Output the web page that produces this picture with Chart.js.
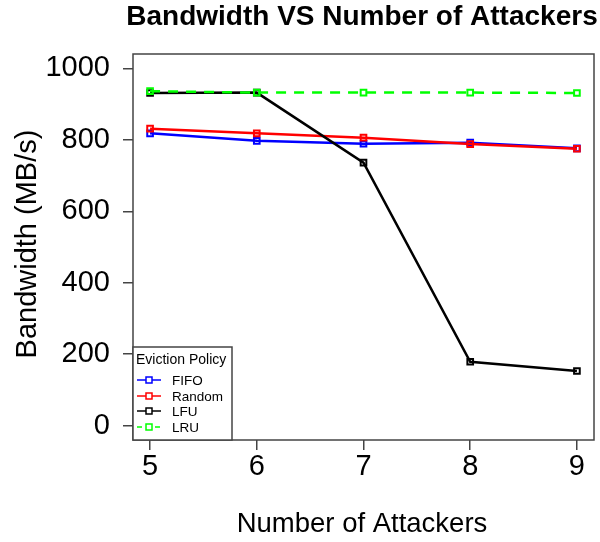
<!DOCTYPE html>
<html>
<head>
<meta charset="utf-8">
<style>
  html, body { margin: 0; padding: 0; background: #fff; }
  canvas { display: block; }
</style>
<script src="https://cdn.jsdelivr.net/npm/chart.js@4/dist/chart.umd.min.js"></script>
</head>
<body>
<canvas id="c" width="600" height="542"></canvas>
<script>
// Number of attackers on the x axis
const attackers = [5, 6, 7, 8, 9];
// Bandwidth (MB/s) per eviction policy
const fifo   = [818, 797, 789, 792, 776];
const random = [831, 818, 806, 788, 775];
const lfu    = [931, 932, 736, 179, 153];
const lru    = [936, 932, 932, 932, 931];
// Axis tick labels
const xTicks = [5, 6, 7, 8, 9];
const yTicks = [0, 200, 400, 600, 800, 1000];

const FONT = '"Liberation Sans", Arial, sans-serif';

const series = [
  { label: 'FIFO',   data: fifo,   color: '#0000ff', dash: [],      order: 3 },
  { label: 'Random', data: random, color: '#ff0000', dash: [],      order: 2 },
  { label: 'LFU',    data: lfu,    color: '#000000', dash: [],      order: 1 },
  { label: 'LRU',    data: lru,    color: '#00ff00', dash: [10, 8], order: 0 }
];

const datasets = series.map(s => ({
  label: s.label,
  data: attackers.map((x, i) => ({ x, y: s.data[i] })),
  borderColor: s.color,
  backgroundColor: 'rgba(0,0,0,0)',
  borderWidth: 2.5,
  borderDash: s.dash,
  pointStyle: 'rect',
  pointRadius: 4,
  pointBorderWidth: 2,
  pointBorderColor: s.color,
  pointBackgroundColor: 'rgba(0,0,0,0)',
  tension: 0,
  order: s.order
}));

// Frame, titles and legend box
const decor = {
  id: 'decor',
  afterDraw(chart) {
    const ctx = chart.ctx;
    const a = chart.chartArea;
    ctx.save();
    // plot frame
    ctx.strokeStyle = '#444';
    ctx.lineWidth = 1.5;
    ctx.strokeRect(a.left, a.top, a.right - a.left, a.bottom - a.top);

    // main title
    ctx.fillStyle = '#000';
    ctx.font = 'bold 28px ' + FONT;
    ctx.textAlign = 'center';
    ctx.textBaseline = 'alphabetic';
    ctx.fillText('Bandwidth VS Number of Attackers', 362, 25);

    // axis titles
    ctx.font = '27.5px ' + FONT;
    ctx.fillText('Number of Attackers', 362, 532);
    ctx.save();
    ctx.translate(36, 244);
    ctx.rotate(-Math.PI / 2);
    ctx.font = '29px ' + FONT;
    ctx.fillText('Bandwidth (MB/s)', 0, 0);
    ctx.restore();

    // legend
    const lx = a.left, ly = 347, lw = 99, lh = a.bottom - ly;
    ctx.fillStyle = '#fff';
    ctx.fillRect(lx, ly, lw, lh);
    ctx.strokeStyle = '#444';
    ctx.lineWidth = 1.5;
    ctx.strokeRect(lx, ly, lw, lh);
    ctx.fillStyle = '#000';
    ctx.font = '14px ' + FONT;
    ctx.textAlign = 'left';
    ctx.textBaseline = 'middle';
    ctx.fillText('Eviction Policy', lx + 3, ly + 13);
    const rows = [380, 396, 411, 427];
    series.forEach((s, i) => {
      const y = rows[i];
      ctx.strokeStyle = s.color;
      ctx.lineWidth = 1.5;
      ctx.setLineDash(s.dash.length ? [5, 4] : []);
      ctx.beginPath();
      ctx.moveTo(lx + 4, y);
      ctx.lineTo(lx + 28, y);
      ctx.stroke();
      ctx.setLineDash([]);
      ctx.fillStyle = '#fff';
      ctx.fillRect(lx + 13, y - 3, 6, 6);
      ctx.strokeRect(lx + 13, y - 3, 6, 6);
      ctx.fillStyle = '#000';
      ctx.font = '13.5px ' + FONT;
      ctx.fillText(s.label, lx + 39, y + 1);
    });
    ctx.restore();
  }
};

new Chart(document.getElementById('c'), {
  type: 'line',
  data: { datasets },
  options: {
    responsive: false,
    animation: false,
    events: [],
    layout: { padding: { top: 54, right: 3, left: 0, bottom: 0 } },
    plugins: { legend: { display: false }, title: { display: false }, tooltip: { enabled: false } },
    scales: {
      x: {
        type: 'linear',
        min: 4.84,
        max: 9.16,
        afterBuildTicks: s => { s.ticks = xTicks.map(v => ({ value: v })); },
        afterFit: s => { s.height = 102; },
        border: { display: false },
        grid: { drawOnChartArea: false, drawTicks: true, tickLength: 10, color: '#444', lineWidth: 1.5 },
        ticks: { color: '#000', font: { family: FONT, size: 29 }, padding: 0, maxRotation: 0,
                 callback: v => String(v) }
      },
      y: {
        type: 'linear',
        min: -40,
        max: 1040,
        afterBuildTicks: s => { s.ticks = yTicks.map(v => ({ value: v })); },
        afterFit: s => { s.width = 133; },
        border: { display: false },
        grid: { drawOnChartArea: false, drawTicks: true, tickLength: 10, color: '#444', lineWidth: 1.5 },
        ticks: { color: '#000', font: { family: FONT, size: 29 }, padding: 13,
                 callback: v => String(v) }
      }
    }
  },
  plugins: [decor]
});
</script>
</body>
</html>
